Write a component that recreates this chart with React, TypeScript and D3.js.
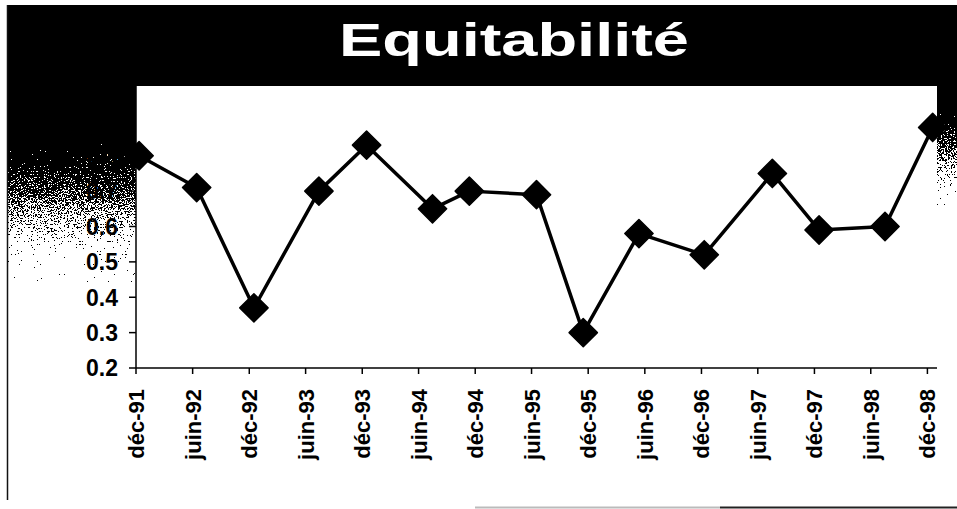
import React from "react";
import * as d3 from "d3";

// Sampling dates (one survey per semester, actual field dates)
const sampleDates = [
  "1991-12-11", "1992-06-14", "1992-12-16", "1993-07-14", "1993-12-15",
  "1994-07-16", "1994-11-12", "1995-06-17", "1995-11-15", "1996-05-13",
  "1996-12-10", "1997-07-18", "1997-12-16", "1998-07-17", "1998-12-18",
];

// Equitability index for each sample
const equitability = [
  0.8, 0.71, 0.37, 0.7, 0.83, 0.65, 0.7, 0.69, 0.3, 0.58, 0.52, 0.75, 0.59, 0.6, 0.88,
];

// Semester ticks of the date axis
const tickDates = [
  "1991-12-01", "1992-06-01", "1992-12-01", "1993-06-01", "1993-12-01",
  "1994-06-01", "1994-12-01", "1995-06-01", "1995-12-01", "1996-06-01",
  "1996-12-01", "1997-06-01", "1997-12-01", "1998-06-01", "1998-12-01",
];
const tickLabels = [
  "déc-91", "juin-92", "déc-92", "juin-93", "déc-93", "juin-94", "déc-94",
  "juin-95", "déc-95", "juin-96", "déc-96", "juin-97", "déc-97", "juin-98", "déc-98",
];

const yTicks = [0.2, 0.3, 0.4, 0.5, 0.6, 0.7, 0.8, 0.9, 1];
const yTickLabels = ["0.2", "0.3", "0.4", "0.5", "0.6", "0.7", "0.8", "0.9", "1"];

const axisStart = "1991-12-01";
const axisEnd = "1999-01-01";
const title = "Equitabilité";

const W = 957;
const H = 509;
const plot = { left: 136, right: 937, top: 85, bottom: 368 };
const font = "Arial, 'Liberation Sans', Helvetica, sans-serif";

export default function App() {
  const parse = d3.timeParse("%Y-%m-%d");
  const x = d3
    .scaleTime()
    .domain([parse(axisStart)!, parse(axisEnd)!])
    .range([plot.left, plot.right]);
  const y = d3.scaleLinear().domain([0.2, 1]).range([plot.bottom, plot.top]);

  const points = sampleDates.map((d, i) => ({ date: parse(d)!, v: equitability[i] }));
  const line = d3
    .line<{ date: Date; v: number }>()
    .x((d) => x(d.date))
    .y((d) => y(d.v));
  const diamond = d3.symbol().type(d3.symbolSquare).size(400)()!;

  return (
    <svg
      width={W}
      height={H}
      viewBox={`0 0 ${W} ${H}`}
      style={{ position: "absolute", left: 0, top: 0, display: "block", background: "#fff" }}
    >
      <defs>
        <linearGradient id="fadeLeft" gradientUnits="userSpaceOnUse" x1="0" y1="84" x2="0" y2="284">
          <stop offset="0" stopColor="#000" />
          <stop offset="0.3" stopColor="#000" />
          <stop offset="0.4" stopColor="#222" />
          <stop offset="0.55" stopColor="#666" />
          <stop offset="0.7" stopColor="#bbb" />
          <stop offset="0.82" stopColor="#eee" />
          <stop offset="0.92" stopColor="#fff" />
        </linearGradient>
        <linearGradient id="fadeRight" gradientUnits="userSpaceOnUse" x1="0" y1="84" x2="0" y2="209">
          <stop offset="0" stopColor="#000" />
          <stop offset="0.23" stopColor="#000" />
          <stop offset="0.45" stopColor="#555" />
          <stop offset="0.65" stopColor="#aaa" />
          <stop offset="0.85" stopColor="#eee" />
          <stop offset="1" stopColor="#fff" />
        </linearGradient>
        {/* grainy fade: gradient plus noise, thresholded to black/white */}
        <filter
          id="grain"
          filterUnits="userSpaceOnUse"
          x="0"
          y="0"
          width={W}
          height={H}
          colorInterpolationFilters="sRGB"
        >
          <feTurbulence type="fractalNoise" baseFrequency="0.7 1.3" numOctaves="1" seed="11" result="noise" />
          <feColorMatrix
            in="noise"
            type="matrix"
            values="1 0 0 0 0  1 0 0 0 0  1 0 0 0 0  0 0 0 0 1"
            result="grey"
          />
          <feComposite
            in="SourceGraphic"
            in2="grey"
            operator="arithmetic"
            k1="0"
            k2="1"
            k3="2"
            k4="-1.02"
            result="mix"
          />
          <feComponentTransfer in="mix" result="bw">
            <feFuncR type="discrete" tableValues="0 1" />
            <feFuncG type="discrete" tableValues="0 1" />
            <feFuncB type="discrete" tableValues="0 1" />
            <feFuncA type="discrete" tableValues="1 1" />
          </feComponentTransfer>
          <feComposite in="bw" in2="SourceGraphic" operator="in" />
        </filter>
      </defs>

      {/* shaded frame around the plot */}
      <g filter="url(#grain)">
        <rect x={7} y={84} width={plot.left - 7} height={200} fill="url(#fadeLeft)" />
        <rect x={plot.right} y={84} width={W - plot.right} height={125} fill="url(#fadeRight)" />
      </g>
      <rect x={7} y={5} width={W - 7} height={plot.top - 4} fill="#000" />
      <rect x={7} y={80} width={plot.left - 7} height={62} fill="#000" />
      <rect x={plot.right} y={80} width={W - plot.right} height={33} fill="#000" />
      <line x1={7.5} x2={7.5} y1={5} y2={500} stroke="#111" strokeWidth={1.5} />
      <line x1={475} x2={720} y1={507.5} y2={507.5} stroke="#bbb" strokeWidth={2} />
      <line x1={720} x2={W} y1={507.5} y2={507.5} stroke="#222" strokeWidth={2} />

      <text
        x={514}
        y={56}
        fill="#fff"
        fontFamily={font}
        fontWeight="bold"
        fontSize={47}
        textAnchor="middle"
        textLength={350}
        lengthAdjust="spacingAndGlyphs"
      >
        {title}
      </text>

      {/* y axis */}
      <line x1={plot.left} x2={plot.left} y1={plot.top} y2={plot.bottom} stroke="#000" strokeWidth={1.5} />
      {yTicks.map((t, i) => (
        <g key={t}>
          <line x1={plot.left - 7} x2={plot.left} y1={y(t)} y2={y(t)} stroke="#000" strokeWidth={1.5} />
          <text
            x={118}
            y={y(t)}
            dy="0.36em"
            textAnchor="end"
            fontFamily={font}
            fontWeight="bold"
            fontSize={23}
            fill="#000"
          >
            {yTickLabels[i]}
          </text>
        </g>
      ))}

      {/* x axis */}
      <line x1={plot.left} x2={plot.right} y1={plot.bottom} y2={plot.bottom} stroke="#000" strokeWidth={1.5} />
      {tickDates.map((d, i) => {
        const tx = x(parse(d)!);
        return (
          <g key={d}>
            <line x1={tx} x2={tx} y1={plot.bottom} y2={plot.bottom + 6} stroke="#000" strokeWidth={1.5} />
            <text
              transform={`translate(${tx + 8},389) rotate(-90)`}
              textAnchor="end"
              fontFamily={font}
              fontWeight="bold"
              fontSize={22}
              fill="#000"
            >
              {tickLabels[i]}
            </text>
          </g>
        );
      })}

      {/* series */}
      <path d={line(points)!} fill="none" stroke="#000" strokeWidth={3.5} strokeLinejoin="round" />
      {points.map((p, i) => (
        <path
          key={i}
          d={diamond}
          transform={`translate(${x(p.date)},${y(p.v)}) rotate(45)`}
          fill="#000"
          stroke="#000"
          strokeWidth={1.5}
          strokeLinejoin="round"
        />
      ))}
    </svg>
  );
}
